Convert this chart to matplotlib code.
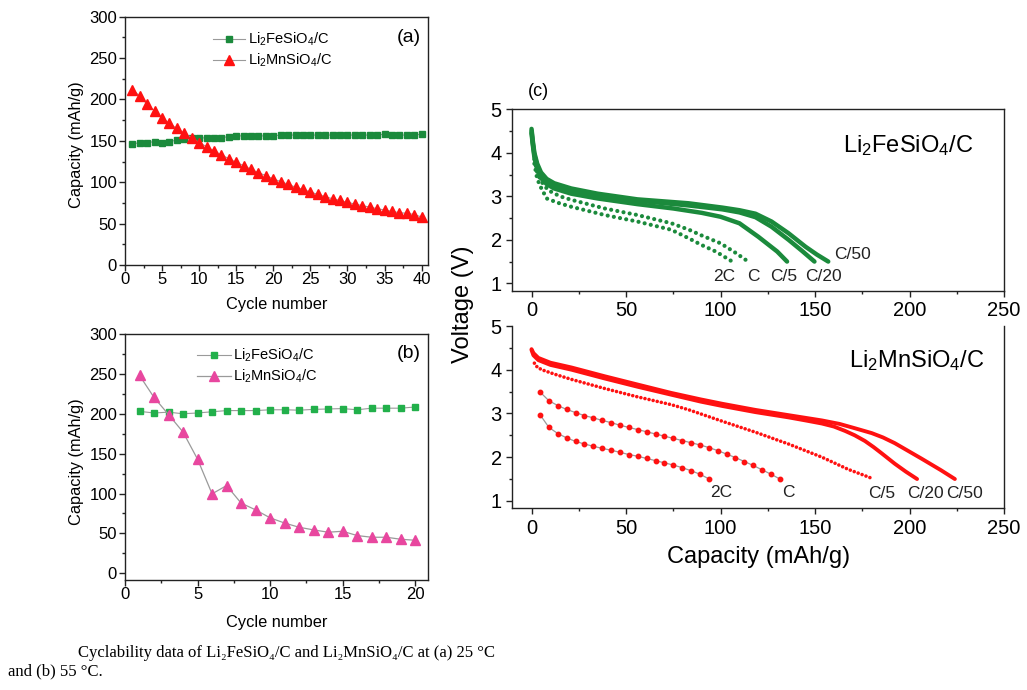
import numpy as np
import matplotlib
matplotlib.use("Agg")
import matplotlib.pyplot as plt
from matplotlib.ticker import MultipleLocator

plt.rcParams['font.family'] = ['Liberation Sans', 'DejaVu Sans']
plt.rcParams['mathtext.fontset'] = 'custom'
plt.rcParams['mathtext.rm'] = 'Liberation Sans'
plt.rcParams['mathtext.it'] = 'Liberation Sans:italic'
plt.rcParams['mathtext.bf'] = 'Liberation Sans:bold'

# ---------------- data ----------------
# (a) cycling at 25 C
cycles_a = np.arange(1, 41)
fe_a = [146, 148, 148, 149, 148, 149, 151, 152, 153, 153, 154, 154, 154, 155, 156, 156, 156, 156, 156, 156,
        157, 157, 157, 157, 157, 157, 157, 157, 157, 157, 157, 157, 157, 157, 158, 157, 157, 157, 157, 158]
mn_a = [212, 204, 194, 186, 178, 171, 165, 159, 154, 148, 143, 138, 133, 128.5, 124, 120, 115.6, 111.5, 108, 104,
        100.7, 97.5, 94, 91.4, 88, 85.4, 82.5, 80, 78, 75.7, 73.7, 71.7, 70, 68, 66.5, 64.8, 63.2, 62.5, 61, 58]

# (b) cycling at 55 C
cycles_b = np.arange(1, 21)
fe_b = [203, 201, 202, 200, 201, 202.5, 204, 204, 204, 205, 205, 204.5, 205.5, 206, 206.5, 205, 207, 207, 207, 208.5]
mn_b = [248, 220.5, 199, 177, 143, 99.6, 110, 88, 79.5, 69.5, 63, 57.7, 54.4, 51.5, 52.7, 47.3, 45.2, 45.2, 42.7, 41.4]

# (c) discharge curves, Li2FeSiO4/C
fe_c50_cap = [0, 0.6, 1.5, 3, 5, 8, 12, 21, 35, 56, 83, 101, 110, 118.5, 127, 136, 145, 151, 157]
fe_c50_v = [4.55, 4.3, 4.0, 3.75, 3.55, 3.4, 3.3, 3.18, 3.06, 2.93, 2.84, 2.74, 2.68, 2.6, 2.42, 2.15, 1.84, 1.66, 1.5]
fe_c20_cap = [0, 0.6, 1.5, 3, 5, 8, 12, 21, 35, 56, 83, 101, 110, 118.5, 127, 136, 143, 149.7]
fe_c20_v = [4.5, 4.25, 3.95, 3.7, 3.5, 3.35, 3.25, 3.13, 3.02, 2.9, 2.79, 2.7, 2.63, 2.52, 2.3, 2.0, 1.75, 1.5]
fe_c5_cap = [0, 0.6, 1.5, 3, 5, 8, 12, 21, 35, 56, 75, 90, 100, 110, 120, 130, 135.2]
fe_c5_v = [4.45, 4.2, 3.9, 3.62, 3.42, 3.28, 3.18, 3.06, 2.95, 2.82, 2.72, 2.62, 2.53, 2.38, 2.07, 1.73, 1.5]
fe_1c_cap = [1.5, 3, 5, 8.8, 15, 21, 38.7, 56, 74, 83.4, 90, 100, 108, 114.6]
fe_1c_v = [3.85, 3.55, 3.35, 3.14, 3.0, 2.92, 2.72, 2.57, 2.38, 2.23, 2.1, 1.92, 1.7, 1.5]
fe_2c_cap = [1.5, 3, 5, 8, 14, 21, 38.7, 56, 74, 83.4, 90, 97.5, 106.2]
fe_2c_v = [3.75, 3.4, 3.2, 2.95, 2.85, 2.76, 2.57, 2.42, 2.23, 2.03, 1.88, 1.73, 1.5]

# (c) discharge curves, Li2MnSiO4/C
mn_c50_cap = [0, 1, 3.6, 10, 21.2, 38.7, 56.2, 73.8, 89.6, 101, 118.5, 136, 153.6, 163, 171.2, 180, 186, 192.2,
              199, 206.2, 216.7, 224]
mn_c50_v = [4.47, 4.38, 4.27, 4.16, 4.05, 3.85, 3.66, 3.47, 3.32, 3.22, 3.08, 2.96, 2.84, 2.76, 2.66, 2.55, 2.45,
            2.32, 2.15, 1.97, 1.7, 1.5]
mn_c20_cap = [0, 1, 3.6, 10, 21.2, 38.7, 56.2, 73.8, 89.6, 101, 118.5, 136, 145, 153.6, 160, 165.9, 171, 176.4,
              181, 185.2, 192.2, 198, 204]
mn_c20_v = [4.45, 4.33, 4.22, 4.11, 4.0, 3.8, 3.61, 3.43, 3.27, 3.17, 3.03, 2.91, 2.84, 2.77, 2.7, 2.6, 2.5, 2.37,
            2.23, 2.09, 1.85, 1.67, 1.5]
mn_c5_cap = [1.5, 3, 5.4, 12, 21, 38.7, 56, 74, 83.4, 101, 118.5, 136, 153.6, 167.6, 175, 181]
mn_c5_v = [4.15, 4.06, 4.0, 3.9, 3.78, 3.57, 3.38, 3.2, 3.08, 2.82, 2.57, 2.3, 2.0, 1.72, 1.6, 1.5]
mn_1c_cap = [4.5, 9.2, 13.9, 18.6, 23.3, 28.0, 32.7, 37.4, 42.1, 46.8, 51.5, 56.2, 60.9, 65.6, 70.3, 75.0, 79.7,
             84.4, 89.1, 93.8, 98.5, 103.2, 107.9, 112.6, 117.3, 122.0, 126.7, 131.4]
mn_1c_v = [3.49, 3.29, 3.18, 3.09, 3.02, 2.95, 2.9, 2.84, 2.79, 2.73, 2.68, 2.63, 2.58, 2.53, 2.48, 2.43, 2.38,
           2.33, 2.28, 2.22, 2.15, 2.07, 1.99, 1.9, 1.81, 1.71, 1.61, 1.5]
mn_2c_cap = [4.5, 9.2, 13.9, 18.6, 23.3, 28.0, 32.7, 37.4, 42.1, 46.8, 51.5, 56.2, 60.9, 65.6, 70.3, 75.0, 79.7,
             84.4, 89.1, 94.0]
mn_2c_v = [2.97, 2.68, 2.54, 2.44, 2.36, 2.3, 2.25, 2.2, 2.16, 2.11, 2.06, 2.02, 1.97, 1.92, 1.87, 1.82, 1.76,
           1.69, 1.61, 1.5]

rate_labels = ['2C', 'C', 'C/5', 'C/20', 'C/50']

FE_NAME = 'Li$_2$FeSiO$_4$/C'
MN_NAME = 'Li$_2$MnSiO$_4$/C'

# ---------------- figure ----------------
W, H = 1027, 690
fig = plt.figure(figsize=(W / 100, H / 100), dpi=100)


def box(left, top, right, bottom):
    return [left / W, 1 - bottom / H, (right - left) / W, (bottom - top) / H]


def fxy(x, y):
    return x / W, 1 - y / H


SPINE = '#222222'
FE_DARK = '#1b8a3c'
FE_LIGHT = '#22b04b'
MN_RED = '#ff1111'
MN_PINK = '#e8479f'
LINK = '#9a9a9a'


def style_axes(ax, xpad, ypad, tick_fs):
    for s in ax.spines.values():
        s.set_color(SPINE)
        s.set_linewidth(1.0)
    ax.tick_params(which='both', direction='out', color=SPINE, width=1.0, labelsize=tick_fs,
                   top=False, right=False)
    ax.tick_params(which='major', length=4.2)
    ax.tick_params(which='minor', length=2.4)
    ax.tick_params(axis='x', pad=xpad)
    ax.tick_params(axis='y', pad=ypad)


# (a)
ax_a = fig.add_axes(box(125, 16.7, 428.3, 265))
ax_a.plot(cycles_a, fe_a, color=LINK, lw=0.8, marker='s', ms=4.8, mfc=FE_DARK, mec=FE_DARK, label=FE_NAME)
ax_a.plot(cycles_a, mn_a, color=LINK, lw=0.8, marker='^', ms=7.2, mfc=MN_RED, mec=MN_RED, label=MN_NAME)
ax_a.set_xlim(0, 40.9)
ax_a.set_ylim(0, 300)
ax_a.xaxis.set_major_locator(MultipleLocator(5))
ax_a.xaxis.set_minor_locator(MultipleLocator(2.5))
ax_a.yaxis.set_major_locator(MultipleLocator(50))
ax_a.yaxis.set_minor_locator(MultipleLocator(25))
style_axes(ax_a, 1.0, 1.5, 12)
ax_a.legend(loc='upper left', bbox_to_anchor=fxy(213, 31), bbox_transform=fig.transFigure,
            frameon=False, fontsize=10.5, handlelength=2.2, handletextpad=0.2, labelspacing=0.25,
            borderpad=0, borderaxespad=0, numpoints=1)
ax_a.text(0.935, 0.915, '(a)', transform=ax_a.transAxes, fontsize=14, ha='center', va='center')

# (b)
ax_b = fig.add_axes(box(125, 334, 428.3, 580))
ax_b.plot(cycles_b, fe_b, color=LINK, lw=0.8, marker='s', ms=4.8, mfc=FE_LIGHT, mec=FE_LIGHT,
          label=FE_NAME)
ax_b.plot(cycles_b, mn_b, color=LINK, lw=0.9, marker='^', ms=7.0, mfc=MN_PINK, mec=MN_PINK, label=MN_NAME)
ax_b.set_xlim(0, 20.9)
ax_b.set_ylim(-8.4, 300)
ax_b.xaxis.set_major_locator(MultipleLocator(5))
ax_b.xaxis.set_minor_locator(MultipleLocator(2.5))
ax_b.yaxis.set_major_locator(MultipleLocator(50))
ax_b.yaxis.set_minor_locator(MultipleLocator(25))
style_axes(ax_b, 1.0, 1.5, 12)
ax_b.legend(loc='upper left', bbox_to_anchor=fxy(197, 347), bbox_transform=fig.transFigure,
            frameon=False, fontsize=10.5, handlelength=2.3, handletextpad=0.2, labelspacing=0.25,
            borderpad=0, borderaxespad=0, numpoints=1)
ax_b.text(0.935, 0.92, '(b)', transform=ax_b.transAxes, fontsize=14, ha='center', va='center')

for yc, lab in [(145, 'Capacity (mAh/g)'), (462, 'Capacity (mAh/g)')]:
    fig.text(*fxy(77, yc), lab, rotation=90, ha='center', va='center', fontsize=11.8)
for yc in (305, 622):
    fig.text(*fxy(277, yc), 'Cycle number', ha='center', va='center', fontsize=11.8)

# (c) upper: Li2FeSiO4/C
dots = (0, (0.01, 1.5))
ax_c1 = fig.add_axes(box(511.7, 109.3, 1004, 290.7))
ax_c1.plot(fe_c50_cap, fe_c50_v, color=FE_DARK, lw=3.2, solid_capstyle='round', solid_joinstyle='round')
ax_c1.plot(fe_c20_cap, fe_c20_v, color=FE_DARK, lw=3.2, solid_capstyle='round', solid_joinstyle='round')
ax_c1.plot(fe_c5_cap, fe_c5_v, color=FE_DARK, lw=3.2, solid_capstyle='round', solid_joinstyle='round')
ax_c1.plot(fe_1c_cap, fe_1c_v, color=FE_DARK, lw=3.0, ls=dots, dash_capstyle='round')
ax_c1.plot(fe_2c_cap, fe_2c_v, color=FE_DARK, lw=3.0, ls=dots, dash_capstyle='round')
fe_label_pos = [(101.8, 1.15), (117.6, 1.15), (133.4, 1.15), (154.5, 1.15), (170.0, 1.66)]
for lab, (lx, ly) in zip(rate_labels, fe_label_pos):
    ax_c1.text(lx, ly, lab, fontsize=12.5, ha='center', va='center', color='#222222')
ax_c1.text(199, 4.17, FE_NAME, fontsize=17, ha='center', va='center')

# (c) lower: Li2MnSiO4/C
ax_c2 = fig.add_axes(box(511.7, 326, 1004, 508.3))
ax_c2.plot(mn_c50_cap, mn_c50_v, color=MN_RED, lw=2.8, solid_capstyle='round', solid_joinstyle='round')
ax_c2.plot(mn_c20_cap, mn_c20_v, color=MN_RED, lw=2.8, solid_capstyle='round', solid_joinstyle='round')
ax_c2.plot(mn_c5_cap, mn_c5_v, color=MN_RED, lw=2.6, ls=(0, (0.01, 1.15)), dash_capstyle='round')
ax_c2.plot(mn_1c_cap, mn_1c_v, color=LINK, lw=0.9, marker='o', ms=3.2, mfc=MN_RED, mec=MN_RED)
ax_c2.plot(mn_2c_cap, mn_2c_v, color=LINK, lw=0.9, marker='o', ms=3.2, mfc=MN_RED, mec=MN_RED)
mn_label_pos = [(100.5, 1.2), (136, 1.2), (185.2, 1.17), (208.3, 1.17), (228.9, 1.17)]
for lab, (lx, ly) in zip(rate_labels, mn_label_pos):
    ax_c2.text(lx, ly, lab, fontsize=12.5, ha='center', va='center', color='#222222')
ax_c2.text(204, 4.22, MN_NAME, fontsize=17, ha='center', va='center')

for ax in (ax_c1, ax_c2):
    ax.set_xlim(-10.5, 250)
    ax.set_ylim(0.83, 5)
    ax.xaxis.set_major_locator(MultipleLocator(50))
    ax.xaxis.set_minor_locator(MultipleLocator(25))
    ax.yaxis.set_major_locator(MultipleLocator(1))
    ax.yaxis.set_minor_locator(MultipleLocator(0.5))
    style_axes(ax, 3.5, 3.0, 14.5)
ax_c2.spines['top'].set_visible(False)

fig.text(*fxy(538, 92), '(c)', fontsize=13, ha='center', va='center')
fig.text(*fxy(463, 304), 'Voltage (V)', rotation=90, ha='center', va='center', fontsize=17)
fig.text(*fxy(759, 557), 'Capacity (mAh/g)', ha='center', va='center', fontsize=17)

# caption
serif = ['Liberation Serif', 'DejaVu Serif']
fig.text(*fxy(78, 653), 'Cyclability data of Li\u2082FeSiO\u2084/C and Li\u2082MnSiO\u2084/C at (a) 25 \u00b0C',
         family=serif, fontsize=12, ha='left', va='center')
fig.text(*fxy(8, 671), 'and (b) 55 \u00b0C.', family=serif, fontsize=12, ha='left', va='center')

fig.savefig('out.png', dpi=100)
